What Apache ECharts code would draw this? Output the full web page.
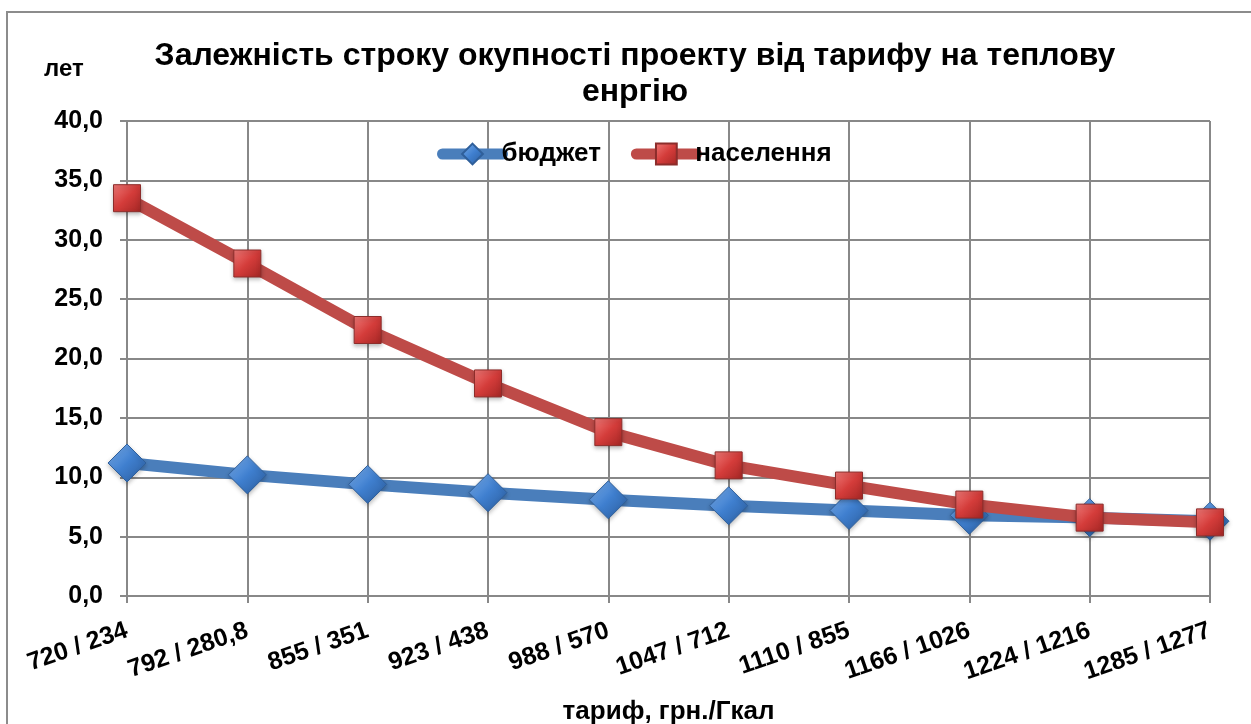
<!DOCTYPE html>
<html>
<head>
<meta charset="utf-8">
<script src="https://cdn.jsdelivr.net/npm/echarts@6/dist/echarts.min.js"></script>
<style>
html,body{margin:0;padding:0;background:#fff;overflow:hidden;}
#chart{width:1251px;height:724px;}
</style>
</head>
<body>
<div id="chart"></div>
<script>
const categories = ['720 / 234','792 / 280,8','855 / 351','923 / 438','988 / 570','1047 / 712','1110 / 855','1166 / 1026','1224 / 1216','1285 / 1277'];
const budget = [11.2, 10.2, 9.4, 8.7, 8.1, 7.6, 7.2, 6.8, 6.6, 6.3];
const population = [33.5, 28.0, 22.4, 17.9, 13.8, 11.0, 9.3, 7.7, 6.6, 6.2];
const yTicks = [0, 5, 10, 15, 20, 25, 30, 35, 40];

const FONT = '"Liberation Sans", Arial, sans-serif';
const chart = echarts.init(document.getElementById('chart'));

function grad(light, mid, dark) {
  return new echarts.graphic.LinearGradient(0, 0, 1, 1, [
    {offset: 0, color: light},
    {offset: 0.5, color: mid},
    {offset: 1, color: dark}
  ]);
}

chart.setOption({
  backgroundColor: '#fff',
  animation: false,
  graphic: [{
    type: 'polyline',
    shape: {points: [[7, 730], [7, 12], [1260, 12]]},
    style: {stroke: '#8c8c8c', lineWidth: 2, fill: null},
    silent: true
  }],
  title: [{
    text: 'Залежність строку окупності проекту від тарифу на теплову\nенргію',
    left: 630, top: 33, textAlign: 'center',
    textStyle: {fontFamily: FONT, fontWeight: 'bold', fontSize: 32, lineHeight: 36, color: '#000'}
  }, {
    text: 'лет', left: 39, top: 52,
    textStyle: {fontFamily: FONT, fontWeight: 'bold', fontSize: 24, color: '#000'}
  }],
  legend: {
    top: 136, left: 432,
    itemWidth: 60, itemHeight: 26, itemGap: 30,
    lineStyle: {width: 11, cap: 'round'},
    textStyle: {fontFamily: FONT, fontWeight: 'bold', fontSize: 26, color: '#000', padding: [0, 0, 0, -6]},
    data: ['бюджет', 'населення']
  },
  grid: {left: 127, right: 41, top: 121, bottom: 128, containLabel: false, outerBoundsMode: 'none'},
  xAxis: {
    type: 'category', data: categories, boundaryGap: false,
    name: 'тариф, грн./Гкал', nameLocation: 'middle', nameGap: 103,
    nameTextStyle: {fontFamily: FONT, fontWeight: 'bold', fontSize: 26, color: '#000'},
    axisLine: {lineStyle: {color: '#888', width: 2}},
    axisTick: {show: true, alignWithLabel: true, length: 7, lineStyle: {color: '#888', width: 2}},
    axisLabel: {rotate: 19, margin: 34, fontFamily: FONT, fontWeight: 'bold', fontSize: 25, color: '#000', interval: 0},
    splitLine: {show: true, lineStyle: {color: '#888', width: 2}}
  },
  yAxis: {
    type: 'value', min: 0, max: 40, interval: 5,
    axisLine: {show: true, lineStyle: {color: '#888', width: 2}},
    axisTick: {show: true, length: 7, lineStyle: {color: '#888', width: 2}},
    axisLabel: {margin: 24, fontFamily: FONT, fontWeight: 'bold', fontSize: 25, color: '#000',
      formatter: v => yTicks.includes(v) ? v.toFixed(1).replace('.', ',') : ''},
    splitLine: {show: true, lineStyle: {color: '#888', width: 2}}
  },
  series: [{
    name: 'бюджет', type: 'line', data: budget,
    symbol: 'diamond', symbolSize: 38,
    lineStyle: {color: '#4a7ebb', width: 12},
    itemStyle: {color: grad('#7fb2ee', '#3f7fcf', '#2a5b9a'), borderColor: '#2f5f9a', borderWidth: 1,
      shadowColor: 'rgba(0,0,0,0.25)', shadowBlur: 4, shadowOffsetY: 2},
    z: 2
  }, {
    name: 'населення', type: 'line', data: population,
    symbol: 'rect', symbolSize: 27,
    lineStyle: {color: '#be4b48', width: 12},
    itemStyle: {color: grad('#ef7a78', '#d43c3a', '#a32624'), borderColor: '#8c2d2b', borderWidth: 1,
      shadowColor: 'rgba(0,0,0,0.25)', shadowBlur: 4, shadowOffsetY: 2},
    z: 3
  }]
});
</script>
</body>
</html>
